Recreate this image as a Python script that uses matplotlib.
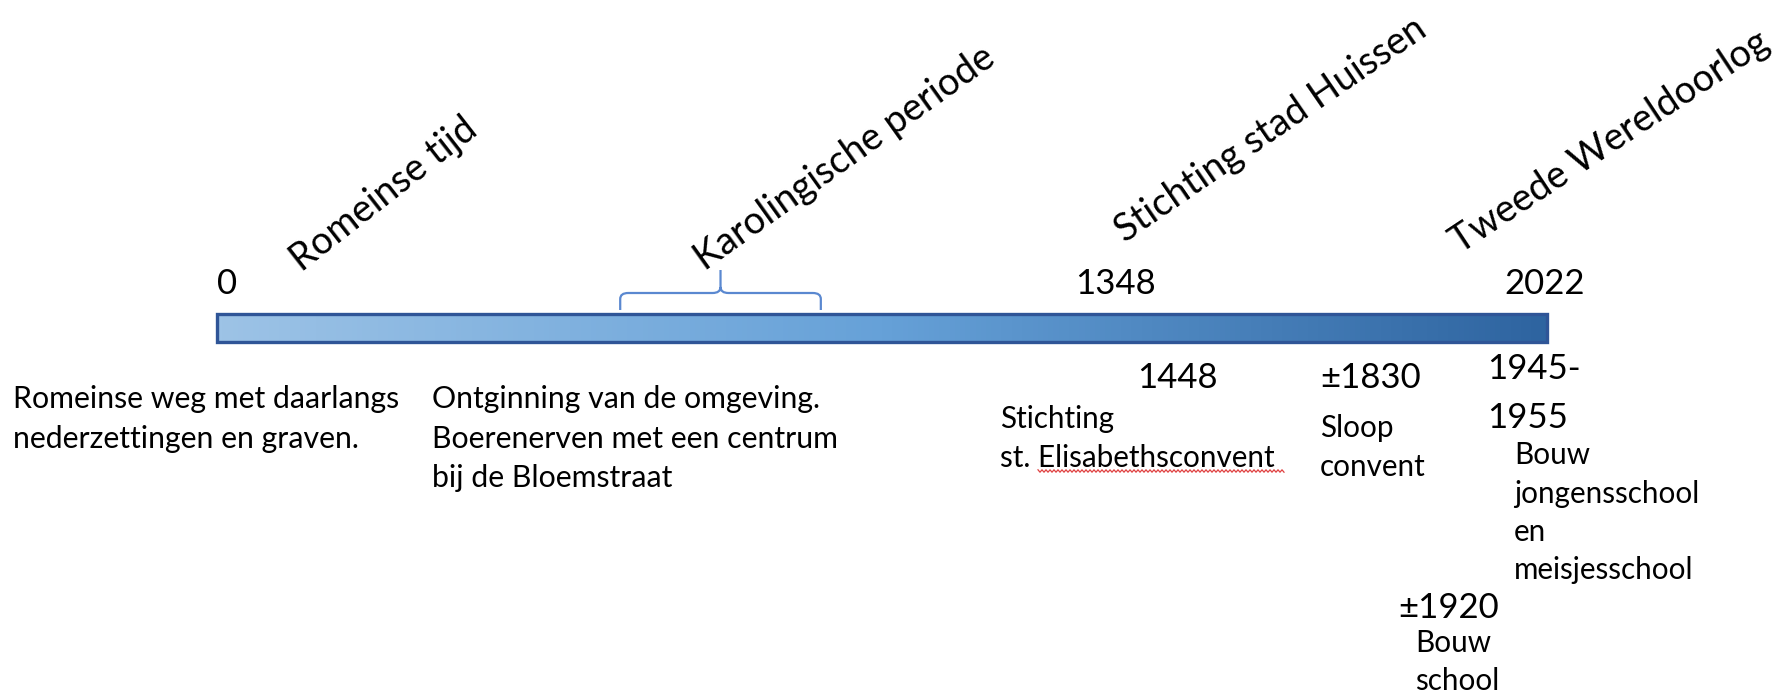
import numpy as np
import matplotlib
matplotlib.use("Agg")
import matplotlib.pyplot as plt
from matplotlib.colors import LinearSegmentedColormap
from matplotlib.patches import Rectangle, PathPatch
from matplotlib.path import Path

plt.rcParams['font.family'] = ['Lato', 'DejaVu Sans']

# data
start_year, end_year = 0, 2022
axis_labels = ["0", "1348", "2022"]
periods = ["Romeinse tijd", "Karolingische periode",
           "Stichting stad Huissen", "Tweede Wereldoorlog"]
karoling_span = [613, 918]
early_texts = [["Romeinse weg met daarlangs", "nederzettingen en graven."],
               ["Ontginning van de omgeving.", "Boerenerven met een centrum",
                "bij de Bloemstraat"]]
event_years = [["1448"], ["±1830"], ["1945-", "1955"], ["±1920"]]
event_texts = [["Stichting", "st. Elisabethsconvent"],
               ["Sloop", "convent"],
               ["Bouw", "jongensschool", "en", "meisjesschool"],
               ["Bouw", "school"]]

W, H = 1785, 694
BAR_L, BAR_R, BAR_T, BAR_B = 217, 1547, 314, 342


def yr(px):
    # pixel column -> year on the timeline scale
    return start_year + (px - BAR_L) * (end_year - start_year) / (BAR_R - BAR_L)


fig = plt.figure(figsize=(W / 100, H / 100), dpi=100)
ax = fig.add_axes([0, 0, 1, 1])
ax.set_xlim(yr(0), yr(W))
ax.set_ylim(H, 0)
ax.axis('off')

# gradient bar
cmap = LinearSegmentedColormap.from_list('tl', ['#9DC3E6', '#66A1D8', '#2E64A0'])
ax.imshow(np.linspace(0, 1, 256)[None, :], cmap=cmap, aspect='auto',
          extent=[start_year, end_year, BAR_B, BAR_T], zorder=1)
ax.add_patch(Rectangle((start_year, BAR_T), end_year - start_year, BAR_B - BAR_T,
                       fill=False, ec='#2F5597', lw=2.4, zorder=2))

# brace over the Karolingian period
b0, b1 = karoling_span
bm = (b0 + b1) / 2
r = yr(BAR_L + 8) - start_year
yb, yh, yt = 310, 293, 270
verts = [(b0, yb), (b0, yh + 6), (b0, yh), (b0 + r, yh),
         (bm - r, yh), (bm, yh), (bm, yh - 6), (bm, yt),
         (bm, yh - 6), (bm, yh), (bm + r, yh),
         (b1 - r, yh), (b1, yh), (b1, yh + 6), (b1, yb)]
codes = [Path.MOVETO, Path.LINETO, Path.CURVE3, Path.CURVE3,
         Path.LINETO, Path.CURVE3, Path.CURVE3, Path.LINETO,
         Path.MOVETO, Path.CURVE3, Path.CURVE3,
         Path.LINETO, Path.CURVE3, Path.CURVE3, Path.LINETO]
ax.add_patch(PathPatch(Path(verts, codes), fill=False, ec='#5A88D0', lw=1.6))

# rotated period labels
period_pos = [(302, 272, 38), (705, 271, 35.5), (1125, 243, 34.5), (1460, 254, 33.5)]
for txt, (x, y, ang) in zip(periods, period_pos):
    ax.text(yr(x), y, txt, fontsize=27.3, rotation=ang, rotation_mode='anchor',
            ha='left', va='baseline', color='black')

# year labels on top of bar
for txt, x in zip(axis_labels, [227, 1115, 1545]):
    ax.text(yr(x), 294, txt, fontsize=25, ha='center', va='baseline')


def block(lines, x, y0, step, size):
    for i, ln in enumerate(lines):
        ax.text(yr(x), y0 + i * step, ln, fontsize=size, ha='left', va='baseline')


# descriptions below the bar
block(early_texts[0], 13, 408, 39.5, 21.8)
block(early_texts[1], 432, 408, 39.5, 21.8)

year_pos = [(1137, 388), (1320, 388), (1487, 379), (1398, 618)]
text_pos = [(1000, 428), (1320, 437), (1514, 464), (1415, 652)]
for yl, (x, y) in zip(event_years, year_pos):
    block(yl, x, y, 49, 25)
for tl, (x, y) in zip(event_texts, text_pos):
    block(tl, x, y, 38.5, 21.3)

# spell-check squiggle under "Elisabethsconvent"
sx = np.arange(1038, 1285, 2.0)
sy = 471 + np.where((np.arange(len(sx)) % 2) == 0, -1.2, 1.2)
ax.plot(yr(sx), sy, color='#E04040', lw=0.9)

fig.savefig('out.png', dpi=100)
